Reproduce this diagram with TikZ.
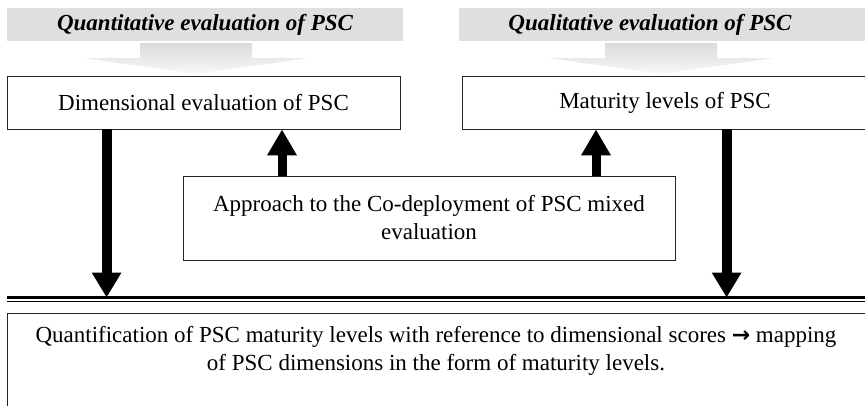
\documentclass[tikz,border=0pt]{standalone}
\usepackage{fontspec}
\setmainfont{Liberation Serif}
\newfontfamily\arrowfont{DejaVu Sans}
\usetikzlibrary{arrows.meta,positioning}

\begin{document}
\begin{tikzpicture}[x=1pt,y=-1pt,
    banner/.style={fill=gray!25,inner sep=0pt},
    box/.style={draw=black!85,line width=0.8pt,inner sep=0pt},
    headtxt/.style={font=\fontsize{23}{27}\selectfont\bfseries\itshape,inner sep=0pt},
    txt/.style={font=\fontsize{23}{28}\selectfont,align=center,inner sep=0pt},
    downarrow/.style={line width=10pt,-{Triangle[width=28pt,length=25pt]}},
    uparrow/.style={line width=9pt,-{Triangle[width=28pt,length=26pt]}}]
    \useasboundingbox (0,0) rectangle (865,405);
    \node[banner,minimum width=396pt,minimum height=33pt] (qnbanner) at (205,24.5) {};
    \node[banner,minimum width=409pt,minimum height=33pt] (qlbanner) at (663.5,24.5) {};
    \node[headtxt] (qntitle) at (205,24.5) {Quantitative evaluation of PSC};
    \node[headtxt] (qltitle) at (650,24.5) {Qualitative evaluation of PSC};
    \foreach \c in {196,661}
        \shade[top color=gray!28,bottom color=gray!6] ({\c-56},43) -- ({\c+56},43) -- ({\c+56},58) -- ({\c+113},58) -- (\c,74) -- ({\c-113},58) -- ({\c-56},58) -- cycle;
    \node[box,txt,minimum width=393pt,minimum height=53pt] (dimbox) at (203.5,102.5) {Dimensional evaluation of PSC};
    \node[box,txt,minimum width=406pt,minimum height=53pt] (matbox) at (665,102.5) {Maturity levels of PSC};
    \node[box,txt,minimum width=492pt,minimum height=84pt] (coapp) at (429,218) {Approach to the Co-deployment of PSC mixed\\evaluation};
    \node[box,minimum width=861pt,minimum height=99pt] (quantbox) at (437.5,362.5) {};
    \node[txt] (quanttxt) at (436,351) {Quantification of PSC maturity levels with reference to dimensional scores {\arrowfont\bfseries\fontsize{22}{22}\selectfont →} mapping\\of PSC dimensions in the form of maturity levels.};
    \coordinate (railL) at (7,297.5);
    \coordinate (railR) at (868,297.5);
    \draw[line width=3pt] (railL) -- (railR);
    \draw[line width=1pt] ([yshift=-4pt]railL) -- ([yshift=-4pt]railR);
    \draw[downarrow] ([xshift=100pt]dimbox.south west) -- ([xshift=100pt]dimbox.south west |- railL);
    \draw[downarrow] ([xshift=265pt]matbox.south west) -- ([xshift=265pt]matbox.south west |- railL);
    \draw[uparrow] ([xshift=-147pt]coapp.north) -- ([xshift=-147pt]coapp.north |- dimbox.south);
    \draw[uparrow] ([xshift=167pt]coapp.north) -- ([xshift=167pt]coapp.north |- matbox.south);
\end{tikzpicture}
\end{document}
